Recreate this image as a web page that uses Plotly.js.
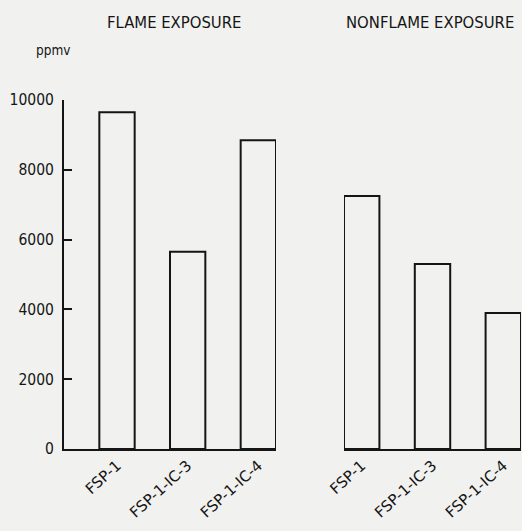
<!DOCTYPE html>
<html>
<head>
<meta charset="utf-8">
<script src="https://cdn.plot.ly/plotly-3.0.1.min.js"></script>
<style>
html,body{margin:0;padding:0;background:#f1f1ef;}
#chart{width:522px;height:531px;}
</style>
</head>
<body>
<div id="chart"></div>
<script>
const categories = ["FSP-1", "FSP-1-IC-3", "FSP-1-IC-4"];
const flameValues = [9650, 5650, 8850];
const nonflameValues = [7250, 5300, 3900];
const yTickValues = [0, 2000, 4000, 6000, 8000, 10000];
const yTickLabels = ["0", "2000", "4000", "6000", "8000", "10000"];
const panelTitles = ["FLAME EXPOSURE", "NONFLAME EXPOSURE"];
const unitLabel = "ppmv";

const W = 522, H = 531;
const ink = "#151515";
const bg = "#f1f1ef";
const narrow = "DejaVu Sans Condensed, Liberation Sans Narrow, sans-serif";
const wide = "DejaVu Sans, Liberation Sans, sans-serif";

const barStyle = {color: "rgba(0,0,0,0)", line: {color: ink, width: 2}};

const traces = [
  {type: "bar", x: categories, y: flameValues, xaxis: "x", yaxis: "y",
   width: 0.5, marker: barStyle, hoverinfo: "skip", showlegend: false},
  {type: "bar", x: categories, y: nonflameValues, xaxis: "x2", yaxis: "y2",
   width: 0.5, marker: barStyle, hoverinfo: "skip", showlegend: false}
];

const pad = {l: 0, r: 0, t: 100, b: 82};
const plotH = H - pad.t - pad.b;
const px2x = p => p / W;
const py2y = p => (H - pad.b - p) / plotH;

const layout = {
  width: W, height: H,
  margin: pad,
  paper_bgcolor: bg, plot_bgcolor: bg,
  showlegend: false,
  bargap: 0.5,
  xaxis: {
    domain: [px2x(64), px2x(276)], range: [-0.75, 2.25], type: "category",
    showline: true, linecolor: ink, linewidth: 2, showgrid: false, zeroline: false,
    ticks: "", tickangle: -42, anchor: "y", automargin: false,
    tickfont: {family: wide, size: 15, color: ink}
  },
  yaxis: {
    domain: [0, 1], range: [0, 10000], anchor: "x",
    showline: true, linecolor: ink, linewidth: 2, showgrid: false, zeroline: false,
    tickvals: yTickValues, ticktext: yTickLabels,
    ticks: "inside", ticklen: 8, tickwidth: 2, tickcolor: ink,
    ticklabelstandoff: 5, automargin: false,
    tickfont: {family: narrow, size: 15.5, color: ink}
  },
  xaxis2: {
    domain: [px2x(344), px2x(521)], range: [-0.25, 2.25], type: "category",
    showline: true, linecolor: ink, linewidth: 2, showgrid: false, zeroline: false,
    ticks: "", tickangle: -42, anchor: "y2", automargin: false,
    tickfont: {family: wide, size: 15, color: ink}
  },
  yaxis2: {
    domain: [0, 1], range: [0, 10000], anchor: "x2",
    showline: false, showgrid: false, zeroline: false, showticklabels: false, ticks: ""
  },
  annotations: [
    {text: panelTitles[0], xref: "paper", yref: "paper", x: px2x(174), y: py2y(22),
     xanchor: "center", yanchor: "middle", showarrow: false,
     font: {family: narrow, size: 16.5, color: ink}},
    {text: panelTitles[1], xref: "paper", yref: "paper", x: px2x(430), y: py2y(22),
     xanchor: "center", yanchor: "middle", showarrow: false,
     font: {family: narrow, size: 16.5, color: ink}},
    {text: unitLabel, xref: "paper", yref: "paper", x: px2x(53), y: py2y(50),
     xanchor: "center", yanchor: "middle", showarrow: false,
     font: {family: narrow, size: 13.5, color: ink}}
  ]
};

Plotly.newPlot("chart", traces, layout, {displayModeBar: false, staticPlot: true});
</script>
</body>
</html>
